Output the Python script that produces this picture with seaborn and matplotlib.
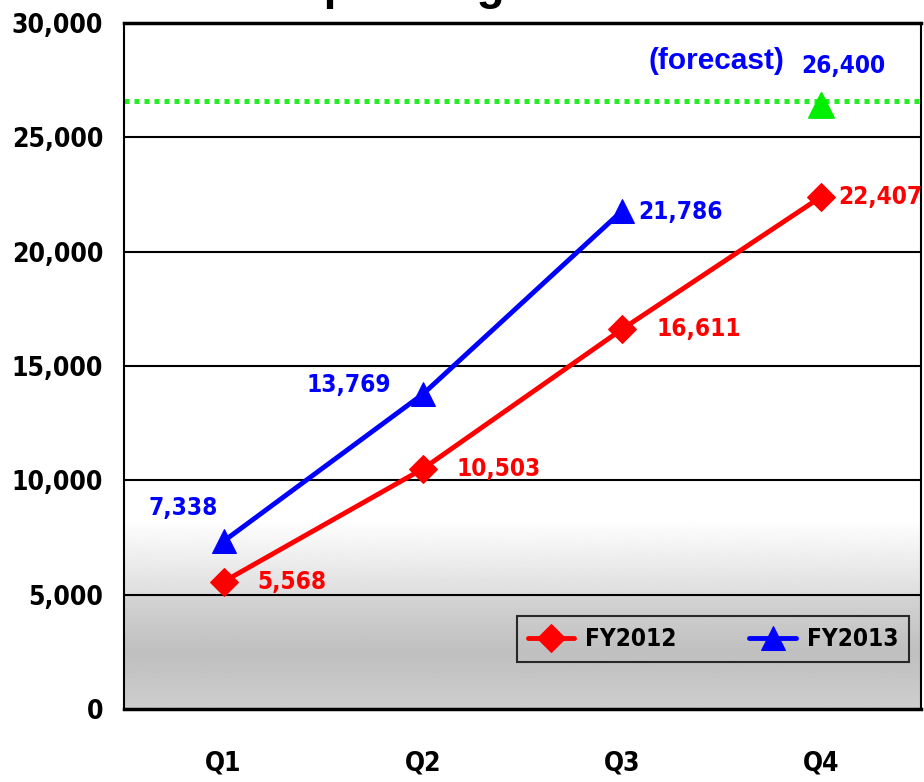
import numpy as np
import pandas as pd
import matplotlib
matplotlib.use("Agg")
import matplotlib.pyplot as plt
import seaborn as sns

# data
quarters = ["Q1", "Q2", "Q3", "Q4"]
fy2012 = [5568, 10503, 16611, 22407]
fy2013 = [7338, 13769, 21786]
forecast_value = 26400
forecast_line = 26600
y_ticks = [0, 5000, 10000, 15000, 20000, 25000, 30000]

sns.set_style("white")
plt.rcParams["font.family"] = ["DejaVu Sans"]
plt.rcParams["font.stretch"] = "condensed"
plt.rcParams["font.weight"] = "bold"
plt.rcParams["text.color"] = "black"

fig = plt.figure(figsize=(9.24, 7.82), dpi=100)
ax = fig.add_axes([124 / 924, 73 / 782, 797 / 924, 686 / 782])

# background gradient: white on top, grey toward the bottom
yy = np.linspace(30000, 0, 600)
grad = np.interp(yy, [0, 1500, 2500, 4900, 5000, 8300, 30000],
                 [0.81, 0.77, 0.75, 0.83, 0.87, 1.0, 1.0])
ax.imshow(grad[:, None], cmap="gray", vmin=0, vmax=1, aspect="auto",
          extent=[-0.5, 3.5, 0, 30000], zorder=0)

for t in y_ticks[1:]:
    ax.axhline(t, color="black", lw=1.5, zorder=1)

df12 = pd.DataFrame({"q": quarters, "v": fy2012})
df13 = pd.DataFrame({"q": quarters[:3], "v": fy2013})

sns.lineplot(data=df12, x="q", y="v", ax=ax, color="#ff0000", lw=3.5,
             marker="D", markersize=14, markeredgecolor="#ff0000", label="FY2012", zorder=3)
sns.lineplot(data=df13, x="q", y="v", ax=ax, color="#0000ff", lw=3.5,
             marker="^", markersize=17, markeredgecolor="#0000ff", label="FY2013", zorder=3)
sns.scatterplot(x=[quarters[3]], y=[forecast_value], ax=ax, color="#00ee00",
                marker="^", s=320, edgecolor="#00ee00", zorder=4, legend=False)
ax.axhline(forecast_line, color="#22ee22", lw=3.6, ls=(0, (1, 1)), zorder=2)

fs = 17.5
offs12 = [(24, 0), (24, 0), (24.5, 0), (12, 0)]
for i, v in enumerate(fy2012):
    ax.annotate(f"{v:,}", (i, v), xytext=offs12[i], textcoords="offset points",
                color="#ff0000", fontsize=fs, fontweight="bold", ha="left", va="center")
offs13 = [(-4, 24), (-23, 6.5), (11.5, -1)]
has13 = ["right", "right", "left"]
for i, v in enumerate(fy2013):
    ax.annotate(f"{v:,}", (i, v), xytext=offs13[i], textcoords="offset points",
                color="#0000ff", fontsize=fs, fontweight="bold", ha=has13[i], va="center")
ax.annotate(f"{forecast_value:,}", (3, forecast_value), xytext=(16, 28), textcoords="offset points",
            color="#0000ff", fontsize=fs, fontweight="bold", ha="center", va="center")
ax.annotate("(forecast)", (3, forecast_value), xytext=(-27, 32), textcoords="offset points",
            color="#0000ff", fontsize=21.5, fontweight="bold", ha="right", va="center",
            family=["Liberation Sans", "DejaVu Sans"], fontstretch="normal")

ax.set_xlim(-0.5, 3.5)
ax.set_ylim(0, 30000)
ax.set_yticks(y_ticks)
ax.set_yticklabels([f"{t:,}" for t in y_ticks], fontsize=19, fontweight="bold", color="black")
ax.set_xticks(range(4))
ax.set_xticklabels(quarters, fontsize=19, fontweight="bold", color="black")
ax.set_xticks([0.5, 1.5, 2.5], minor=True)
ax.tick_params(axis="x", which="major", length=0, pad=30)
ax.tick_params(axis="x", which="minor", length=10, width=1.2, direction="in", color="black")
ax.tick_params(axis="y", length=0, pad=15)
ax.set_xlabel("")
ax.set_ylabel("")
for side in ["left", "bottom", "top", "right"]:
    ax.spines[side].set_visible(True)
    ax.spines[side].set_color("black")
    ax.spines[side].set_linewidth(1.5)
ax.spines["top"].set_linewidth(2.5)
ax.spines["bottom"].set_linewidth(2.5)

leg = ax.legend(loc="lower right", bbox_to_anchor=(0.985, 0.0685), borderaxespad=0, ncol=2,
                frameon=True, fancybox=False, facecolor="none", edgecolor="black",
                fontsize=17.5, handlelength=1.9, columnspacing=3.0, borderpad=0.45,
                handletextpad=0.45)
leg.get_frame().set_linewidth(1.5)
for t in leg.get_texts():
    t.set_fontweight("bold")
    t.set_color("black")

# title sits mostly above the figure edge, as in the original
fig.text(0.523, 1.0 + 1 / 782, "Operating Income", ha="center", va="baseline",
         fontsize=33, fontweight="bold", family=["Liberation Sans", "DejaVu Sans"],
         fontstretch="normal")

fig.savefig("out.png", dpi=100)
